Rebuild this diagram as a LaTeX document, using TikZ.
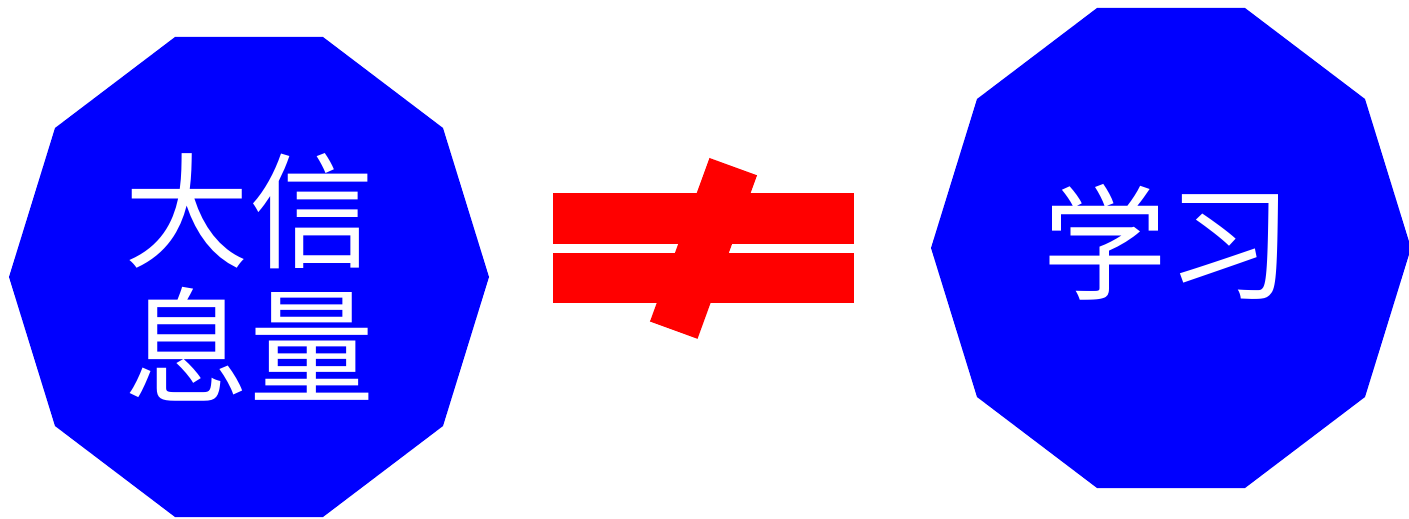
\documentclass[tikz,border=0pt]{standalone}
\usepackage{fontspec}
\newfontfamily\cjk{Noto Sans CJK SC}
\begin{document}
\begin{tikzpicture}[x=0.5pt,y=-0.5pt,
  deca/.style={fill={rgb,255:red,0;green,0;blue,255}},
  label/.style={text=white,inner sep=0pt,align=center,font=\cjk\fontsize{62.5pt}{67.5pt}\selectfont},
  bar/.style={fill={rgb,255:red,255;green,0;blue,0},minimum width=150.35pt,minimum height=25.35pt,inner sep=0pt,outer sep=0pt},
  slashbar/.style={fill={rgb,255:red,255;green,0;blue,0},minimum width=25.3pt,minimum height=87pt,inner sep=0pt,outer sep=0pt}]
\useasboundingbox (0,0) rectangle (1409,519);
% left decagon
\begin{scope}[shift={(249,277)}]
  \fill[deca] (240,0) -- (194,149) -- (74,240) -- (-74,240) -- (-194,149) -- (-240,0)
    -- (-194,-149) -- (-74,-240) -- (74,-240) -- (194,-149) -- cycle;
  \node[label] (big) at (0,0) {大信\\息量};
\end{scope}
% right decagon
\begin{scope}[shift={(1171,248)}]
  \fill[deca] (240,0) -- (194,149) -- (74,240) -- (-74,240) -- (-194,149) -- (-240,0)
    -- (-194,-149) -- (-74,-240) -- (74,-240) -- (194,-149) -- cycle;
  \node[label] (learn) at (-4,-6) {学习};
\end{scope}
% not-equal sign
\node[bar] (bartop) at (703.7,218.7) {};
\node[bar] (barbot) at (703.7,277.9) {};
\node[slashbar,rotate=-20] (slash) at (703.5,248.4) {};
\end{tikzpicture}
\end{document}
